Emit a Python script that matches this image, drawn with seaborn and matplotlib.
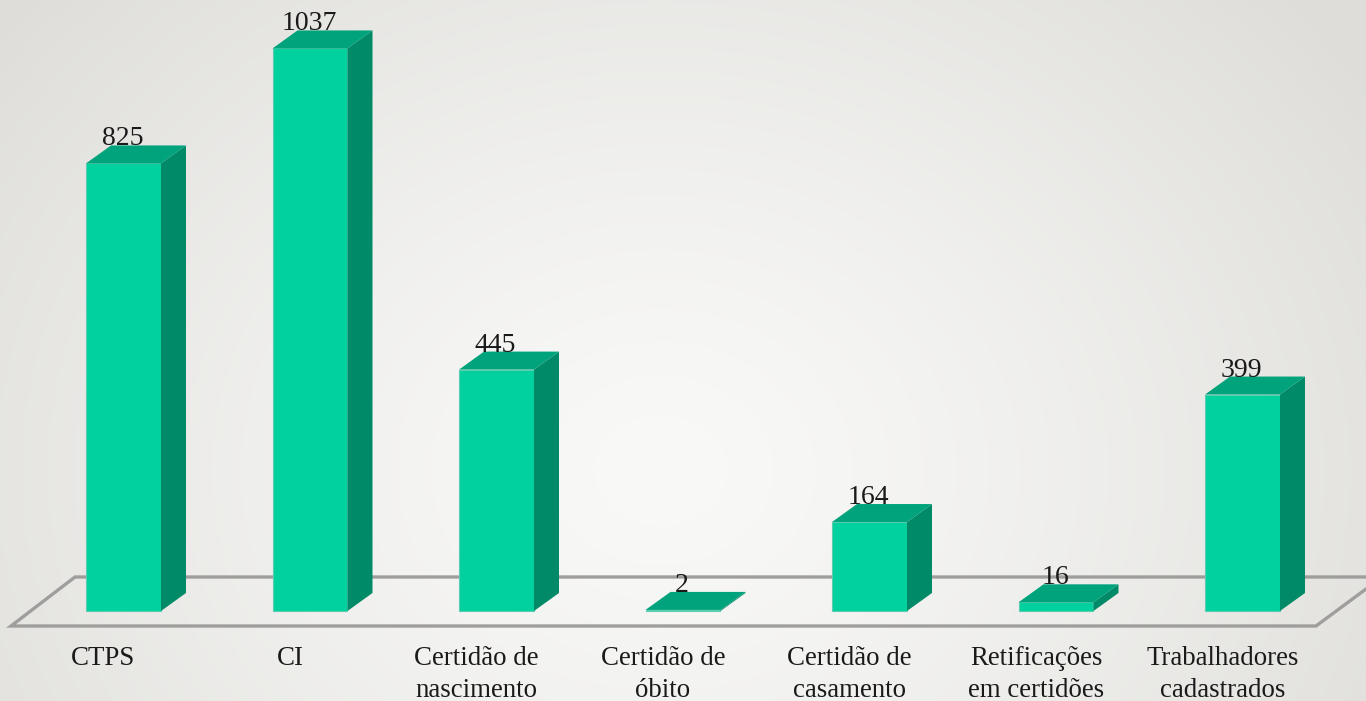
import numpy as np
import pandas as pd
import matplotlib
matplotlib.use('Agg')
import matplotlib.pyplot as plt
import seaborn as sns
from matplotlib.patches import Polygon

categorias = ['CTPS', 'CI', 'Certidão de\nnascimento', 'Certidão de\nóbito',
              'Certidão de\ncasamento', 'Retificações\nem certidões',
              'Trabalhadores\ncadastrados']
valores = [825, 1037, 445, 2, 164, 16, 399]

W, H = 1366, 701
BASE_Y = 611      # linha de base das barras (px)
PX_UNID = 0.5425  # px por unidade
PASSO = 186.5     # px entre barras
X0 = 123.5        # centro da primeira barra (px)
DX, DY = 25, 18   # profundidade 3D (px)

FRENTE = '#00D19E'
TOPO = '#00A37B'
LADO = '#008A68'
PISO = '#9F9E9C'

sns.set_theme(style='white')
plt.rcParams['font.family'] = ['Liberation Serif', 'DejaVu Serif']

df = pd.DataFrame({'cat': categorias, 'val': valores})

fig = plt.figure(figsize=(W / 100, H / 100), dpi=100)
ax = fig.add_axes([0, 0, 1, 1])

# fundo com gradiente radial
yy, xx = np.mgrid[0:H, 0:W]
r = np.sqrt(((xx - 660) / 860) ** 2 + ((yy - 470) / 720) ** 2)
r = np.clip(r, 0, 1)
c0 = np.array([249, 249, 248]) / 255
c1 = np.array([222, 221, 217]) / 255
fundo = c0 + (c1 - c0) * (r[..., None] ** 1.3)
ax.imshow(fundo, extent=(0, 1, 0, 1), transform=ax.transAxes, aspect='auto', zorder=0)


def dx(px):
    return px / PASSO


def dy(px):
    return px / PX_UNID


def px2x(px):
    return (px - X0) / PASSO


def px2y(px):
    return (BASE_Y - px) / PX_UNID


# piso
piso_x = [1366, 75, 11, 1316, 1366]
piso_y = [577, 577, 626, 626, 589]
ax.plot([px2x(p) for p in piso_x], [px2y(p) for p in piso_y], color=PISO, lw=2.4,
        solid_joinstyle='miter', zorder=1)

sns.barplot(data=df, x='cat', y='val', color=FRENTE, saturation=1, width=0.402,
            edgecolor='#5CCDB0', linewidth=0.8, zorder=3, ax=ax)

ax.set_xlim(px2x(0), px2x(W))
ax.set_ylim(px2y(H), px2y(0))
ax.set_axis_off()

# faces de cima e lateral
for bar, v in zip(ax.patches, valores):
    x0 = bar.get_x()
    x1 = x0 + bar.get_width()
    topo = [(x0, v), (x1, v), (x1 + dx(DX), v + dy(DY)), (x0 + dx(DX), v + dy(DY))]
    lado = [(x1, 0), (x1 + dx(DX), dy(DY)), (x1 + dx(DX), v + dy(DY)), (x1, v)]
    ax.add_patch(Polygon(lado, closed=True, facecolor=LADO, edgecolor='none', zorder=3))
    ax.add_patch(Polygon(topo, closed=True, facecolor=TOPO, edgecolor='none', zorder=3))
    ax.text(x0 + bar.get_width() / 2 - dx(1), v + dy(18), str(v), ha='center', va='baseline',
            fontsize=20, color='#1A1A1A', zorder=4)

# rótulos das categorias
for i, cat in enumerate(categorias):
    ax.text(i - dx(20), px2y(646), cat, ha='center', va='top', fontsize=19.4,
            color='#1A1A1A', linespacing=1.36, zorder=4)

fig.savefig('out.png', dpi=100)
